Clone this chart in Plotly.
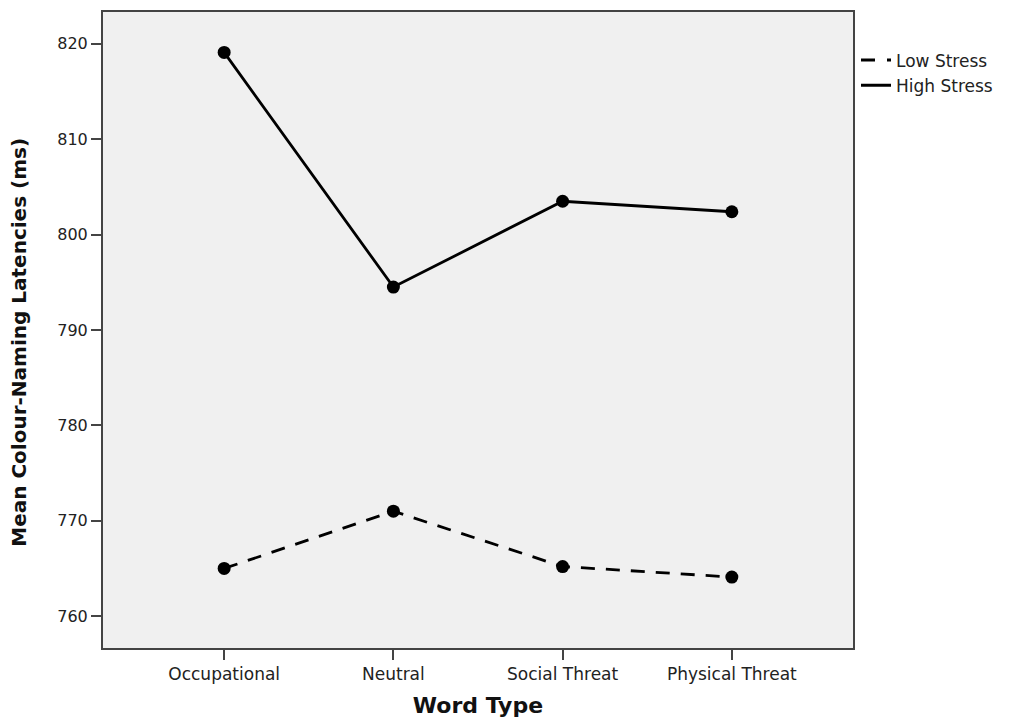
import plotly.graph_objects as go

categories = ["Occupational", "Neutral", "Social Threat", "Physical Threat"]
low_stress = [765.0, 771.0, 765.2, 764.1]
high_stress = [819.1, 794.5, 803.5, 802.4]
y_ticks = [760, 770, 780, 790, 800, 810, 820]

FONT = "DejaVu Sans, Liberation Sans, Arial, sans-serif"

xi = list(range(len(categories)))
fig = go.Figure()
fig.add_trace(go.Scatter(x=xi, y=low_stress, mode="lines+markers", showlegend=False,
                         line=dict(color="black", width=2.8, dash="14px,11px"),
                         marker=dict(color="black", size=13)))
fig.add_trace(go.Scatter(x=xi, y=high_stress, mode="lines+markers", showlegend=False,
                         line=dict(color="black", width=2.8),
                         marker=dict(color="black", size=13)))
fig.add_trace(go.Scatter(x=[None], y=[None], mode="lines", name="Low Stress",
                         line=dict(color="black", width=3, dash="14px,12px")))
fig.add_trace(go.Scatter(x=[None], y=[None], mode="lines", name="High Stress",
                         line=dict(color="black", width=3)))

fig.update_layout(
    width=1014, height=719,
    margin=dict(l=95, r=169, t=2, b=79),
    paper_bgcolor="white", plot_bgcolor="#f0f0f0",
    font=dict(family=FONT, color="#222", size=17),
    legend=dict(x=1.004, xanchor="left", y=0.952, yanchor="top",
                font=dict(size=17, color="#222", family=FONT), itemwidth=30,
                tracegroupgap=0, bgcolor="rgba(0,0,0,0)"),
    xaxis=dict(range=[-0.716, 3.716], tickvals=xi, ticktext=categories,
               ticks="outside", ticklen=10, tickwidth=2, tickcolor="#444",
               tickfont=dict(size=17, family=FONT, color="#222"),
               showgrid=False, zeroline=False, showline=True, linecolor="#444",
               linewidth=2, mirror=True,
               title=dict(text="<b>Word Type</b>", font=dict(size=22, color="#111", family=FONT),
                          standoff=14)),
    yaxis=dict(range=[756.66, 823.34], tickvals=y_ticks,
               ticks="outside", ticklen=10, tickwidth=2, tickcolor="#444",
               tickfont=dict(size=16, family=FONT, color="#222"),
               showgrid=False, zeroline=False, showline=True, linecolor="#444",
               linewidth=2, mirror=True),
    annotations=[dict(text="<b>Mean Colour-Naming Latencies (ms)</b>", textangle=-90,
                      xref="paper", yref="paper", x=0, y=0.48, xanchor="center", yanchor="middle",
                      xshift=-84, showarrow=False,
                      font=dict(size=20, color="#111", family=FONT))],
)
fig.write_html("out.html")
